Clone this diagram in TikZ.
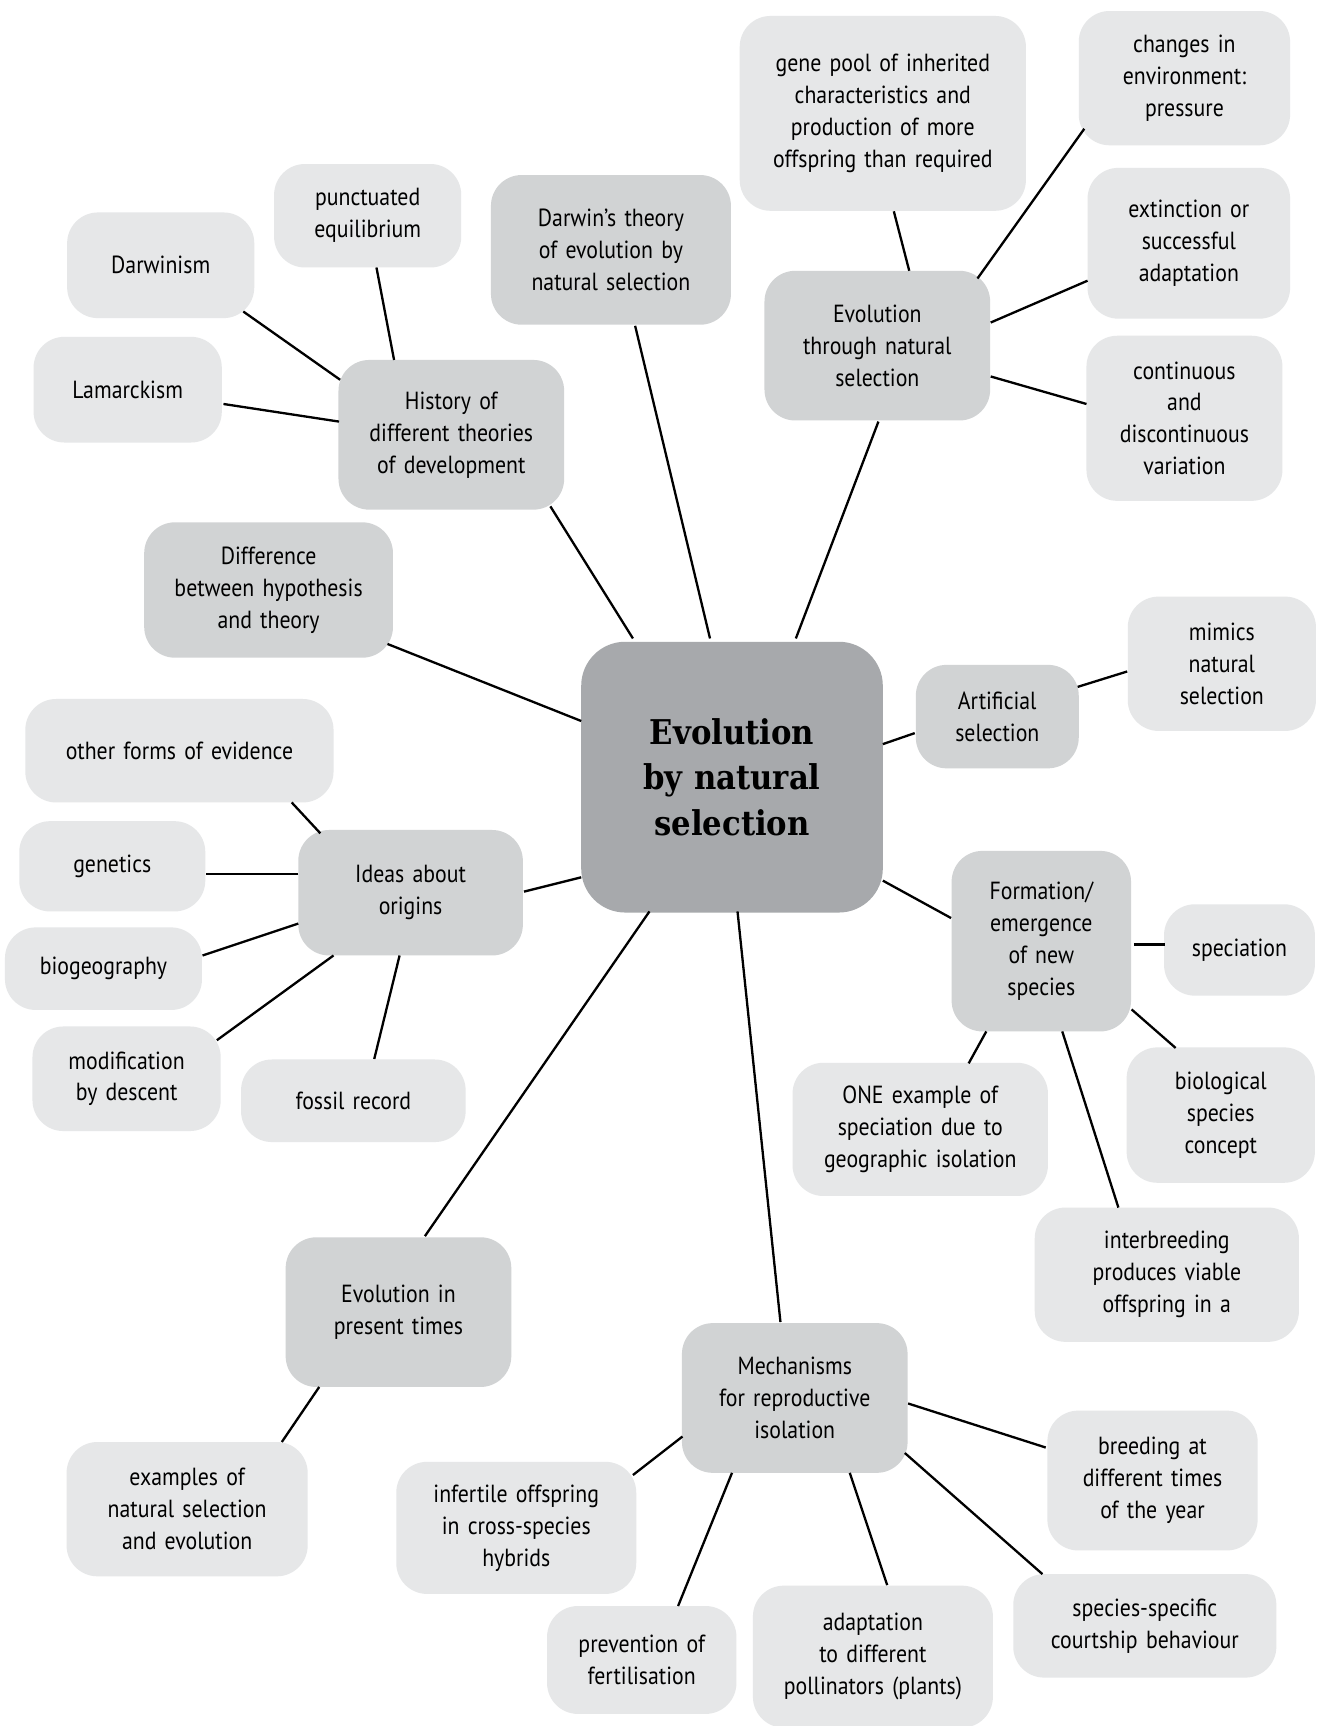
\documentclass[tikz,border=0pt]{standalone}
\usepackage{fontspec}
\setmainfont[FakeStretch=0.88]{PT Sans}
\newfontfamily\titlefont[FakeStretch=0.9]{DejaVu Serif}
\definecolor{lightc}{HTML}{E6E7E8}
\definecolor{midc}{HTML}{D1D3D4}
\definecolor{centc}{HTML}{A7A9AC}
\tikzset{
  box/.style={rounded corners=28pt, inner sep=0pt, align=center, font=\fontsize{22.5}{29}\selectfont},
  light/.style={box, fill=lightc},
  mid/.style={box, fill=midc},
  link/.style={line width=2.1pt, black},
}
\begin{document}
\begin{tikzpicture}[x=1pt,y=-1pt]
\useasboundingbox (0,0) rectangle (1197,1568);
\fill[white] (0,0) rectangle (1197,1568);
% centre
\node[box, fill=centc, rounded corners=40pt, minimum width=274pt, minimum height=246pt, text width=260pt,
  font=\titlefont\bfseries\fontsize{31}{41}\selectfont] (c) at (665,706) {Evolution\\by natural\\selection};
% mid boxes
\node[mid, minimum width=218pt, minimum height=136pt, text width=208pt] (dt) at (555,227) {Darwin’s theory\\of evolution by\\natural selection};
\node[mid, minimum width=205pt, minimum height=136pt, text width=195pt] (ens) at (797,314) {Evolution\\through natural\\selection};
\node[mid, minimum width=205pt, minimum height=136pt, text width=195pt] (hist) at (410,395) {History of\\different theories\\of development};
\node[mid, minimum width=226pt, minimum height=123pt, text width=216pt] (diff) at (244,536) {Difference\\between hypothesis\\and theory};
\node[mid, minimum width=148pt, minimum height=94pt, text width=140pt] (art) at (906,651) {Artificial\\selection};
\node[mid, minimum width=204pt, minimum height=114pt, text width=194pt] (ideas) at (373,811) {Ideas about\\origins};
\node[mid, minimum width=163pt, minimum height=164pt, text width=155pt] (form) at (946,855) {Formation/\\emergence\\of new\\species};
\node[mid, minimum width=205pt, minimum height=136pt, text width=195pt] (pres) at (362,1192) {Evolution in\\present times};
\node[mid, minimum width=205pt, minimum height=136pt, text width=195pt] (mech) at (722,1270) {Mechanisms\\for reproductive\\isolation};
% light boxes
\node[light, minimum width=260pt, minimum height=177pt, text width=250pt] (gp) at (802,103) {gene pool of inherited\\characteristics and\\production of more\\offspring than required};
\node[light, minimum width=192pt, minimum height=122pt, text width=182pt] (chg) at (1076,71) {changes in\\environment:\\pressure};
\node[light, minimum width=184pt, minimum height=137pt, text width=174pt] (ext) at (1080,221) {extinction or\\successful\\adaptation};
\node[light, minimum width=178pt, minimum height=150pt, text width=168pt] (cont) at (1076,380) {continuous\\and\\discontinuous\\variation};
\node[light, minimum width=170pt, minimum height=94pt, text width=160pt] (punc) at (334,196) {punctuated\\equilibrium};
\node[light, minimum width=170pt, minimum height=96pt, text width=160pt] (darw) at (146,241) {Darwinism};
\node[light, minimum width=171pt, minimum height=96pt, text width=161pt] (lam) at (116,354) {Lamarckism};
\node[light, minimum width=171pt, minimum height=122pt, text width=161pt] (mim) at (1110,603) {mimics\\natural\\selection};
\node[light, minimum width=280pt, minimum height=94pt, text width=270pt] (oth) at (163,682) {other forms of evidence};
\node[light, minimum width=169pt, minimum height=82pt, text width=159pt] (gen) at (102,787) {genetics};
\node[light, minimum width=179pt, minimum height=75pt, text width=169pt] (bio) at (94,880) {biogeography};
\node[light, minimum width=171pt, minimum height=95pt, text width=161pt] (mod) at (115,980) {modification\\by descent};
\node[light, minimum width=204pt, minimum height=75pt, text width=194pt] (fos) at (321,1000) {fossil record};
\node[light, minimum width=137pt, minimum height=83pt, text width=127pt] (spec) at (1126,863) {speciation};
\node[light, minimum width=232pt, minimum height=121pt, text width=222pt] (one) at (836,1026) {ONE example of\\speciation due to\\geographic isolation};
\node[light, minimum width=171pt, minimum height=123pt, text width=161pt] (bsc) at (1109,1013) {biological\\species\\concept};
\node[light, minimum width=240pt, minimum height=122pt, text width=230pt] (inter) at (1060,1158) {interbreeding\\produces viable\\offspring in a};
\node[light, minimum width=219pt, minimum height=122pt, text width=209pt] (exa) at (170,1371) {examples of\\natural selection\\and evolution};
\node[light, minimum width=218pt, minimum height=120pt, text width=208pt] (inf) at (469,1388) {infertile offspring\\in cross-species\\hybrids};
\node[light, minimum width=191pt, minimum height=127pt, text width=181pt] (bre) at (1047,1345) {breeding at\\different times\\of the year};
\node[light, minimum width=239pt, minimum height=94pt, text width=229pt] (ssc) at (1040,1477) {species-specific\\courtship behaviour};
\node[light, minimum width=172pt, minimum height=98pt, text width=162pt] (prev) at (583,1508) {prevention of\\fertilisation};
\node[light, minimum width=218pt, minimum height=129pt, text width=208pt] (adap) at (793,1505) {adaptation\\to different\\pollinators (plants)};
% connectors from centre
\draw[link] ([shift={(-20,-126)}]c.center) -- ([shift={(22,69)}]dt.center);
\draw[link] ([shift={(-90,-126)}]c.center) -- ([shift={(90,65)}]hist.center);
\draw[link] ([shift={(58,-126)}]c.center) -- ([shift={(1,69)}]ens.center);
\draw[link] ([shift={(-137,-51)}]c.center) -- ([shift={(108,49)}]diff.center);
\draw[link] ([shift={(137,-30)}]c.center) -- ([shift={(-75,15)}]art.center);
\draw[link] ([shift={(137,94)}]c.center) -- ([shift={(-82,-21)}]form.center);
\draw[link] ([shift={(-137,91)}]c.center) -- ([shift={(103,-1)}]ideas.center);
\draw[link] ([shift={(-75,122)}]c.center) -- ([shift={(24,-69)}]pres.center);
\draw[link] ([shift={(5,122)}]c.center) -- ([shift={(-13,-69)}]mech.center);
% evolution through natural selection
\draw[link] ([shift={(29,-68)}]ens.center) -- ([shift={(10,89)}]gp.center);
\draw[link] ([shift={(91,-61)}]ens.center) -- ([shift={(-91,46)}]chg.center);
\draw[link] ([shift={(103,-21)}]ens.center) -- ([shift={(-92,34)}]ext.center);
\draw[link] ([shift={(103,28)}]ens.center) -- ([shift={(-89,-13)}]cont.center);
% history
\draw[link] ([shift={(-52,-68)}]hist.center) -- ([shift={(8,47)}]punc.center);
\draw[link] ([shift={(-101,-50)}]hist.center) -- ([shift={(75,42)}]darw.center);
\draw[link] ([shift={(-102,-12)}]hist.center) -- ([shift={(87,13)}]lam.center);
% artificial
\draw[link] ([shift={(73,-27)}]art.center) -- ([shift={(-86,7)}]mim.center);
% ideas
\draw[link] ([shift={(-82,-54)}]ideas.center) -- ([shift={(102,47)}]oth.center);
\draw[link] ([shift={(-102,-17)}]ideas.center) -- ([shift={(85,7)}]gen.center);
\draw[link] ([shift={(-102,28)}]ideas.center) -- ([shift={(90,-12)}]bio.center);
\draw[link] ([shift={(-70,57)}]ideas.center) -- ([shift={(82,-35)}]mod.center);
\draw[link] ([shift={(-10,57)}]ideas.center) -- ([shift={(19,-38)}]fos.center);
% formation
\draw[link] ([shift={(84,3)}]form.center) -- ([shift={(-68,-5)}]spec.center);
\draw[link] ([shift={(82,62)}]form.center) -- ([shift={(-41,-61)}]bsc.center);
\draw[link] ([shift={(-50,82)}]form.center) -- ([shift={(44,-60)}]one.center);
\draw[link] ([shift={(19,82)}]form.center) -- ([shift={(-44,-61)}]inter.center);
% present
\draw[link] ([shift={(-72,68)}]pres.center) -- ([shift={(86,-61)}]exa.center);
% mechanisms
\draw[link] ([shift={(-102,35)}]mech.center) -- ([shift={(106,-48)}]inf.center);
\draw[link] ([shift={(-57,68)}]mech.center) -- ([shift={(33,-49)}]prev.center);
\draw[link] ([shift={(50,68)}]mech.center) -- ([shift={(13,-65)}]adap.center);
\draw[link] ([shift={(100,50)}]mech.center) -- ([shift={(-93,-47)}]ssc.center);
\draw[link] ([shift={(103,5)}]mech.center) -- ([shift={(-97,-30)}]bre.center);
\end{tikzpicture}
\end{document}
